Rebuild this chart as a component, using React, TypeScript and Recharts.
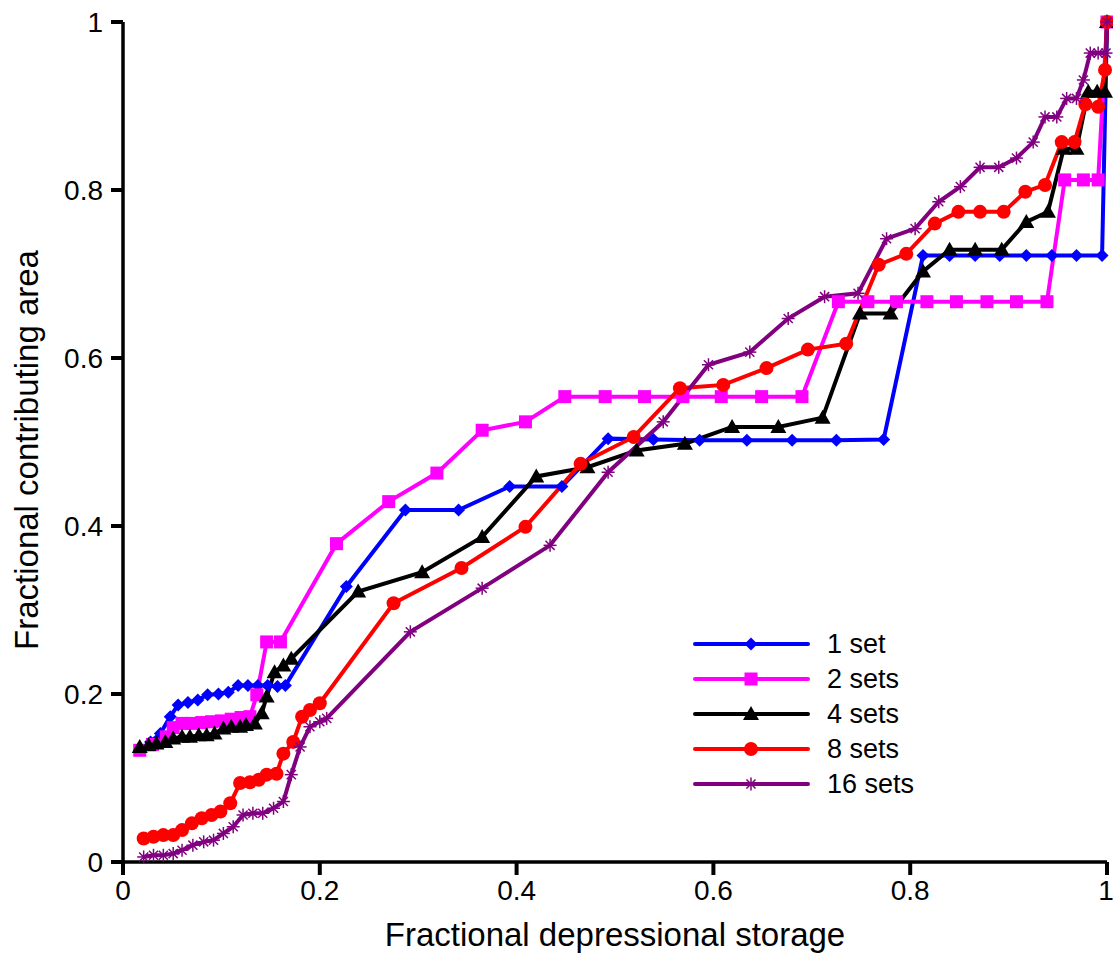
import React from 'react';
import { LineChart, Line, XAxis, YAxis } from 'recharts';

// values
const blueX = [0.018, 0.028, 0.038, 0.048, 0.056, 0.066, 0.076, 0.086, 0.097, 0.107, 0.117, 0.127, 0.137, 0.147, 0.157, 0.165, 0.227, 0.287, 0.341, 0.393, 0.446, 0.493, 0.539, 0.586, 0.634, 0.68, 0.725, 0.773, 0.813, 0.84, 0.866, 0.891, 0.918, 0.944, 0.969, 0.995, 1.0];
const blueY = [0.133, 0.143, 0.153, 0.173, 0.187, 0.19, 0.193, 0.199, 0.2, 0.202, 0.21, 0.21, 0.21, 0.21, 0.209, 0.21, 0.328, 0.419, 0.419, 0.447, 0.447, 0.504, 0.503, 0.502, 0.502, 0.502, 0.502, 0.503, 0.722, 0.722, 0.722, 0.722, 0.722, 0.722, 0.722, 0.722, 1.0];

const pinkX = [0.017, 0.03, 0.044, 0.051, 0.06, 0.07, 0.08, 0.09, 0.1, 0.11, 0.12, 0.129, 0.136, 0.146, 0.16, 0.217, 0.27, 0.319, 0.365, 0.409, 0.449, 0.49, 0.53, 0.569, 0.608, 0.649, 0.69, 0.727, 0.757, 0.786, 0.817, 0.847, 0.878, 0.908, 0.939, 0.957, 0.976, 0.991, 1.0];
const pinkY = [0.133, 0.14, 0.149, 0.16, 0.165, 0.165, 0.166, 0.167, 0.168, 0.17, 0.172, 0.173, 0.199, 0.262, 0.262, 0.379, 0.429, 0.463, 0.514, 0.524, 0.554, 0.554, 0.554, 0.554, 0.554, 0.554, 0.554, 0.667, 0.667, 0.667, 0.667, 0.667, 0.667, 0.667, 0.667, 0.812, 0.812, 0.812, 1.0];

const blackX = [0.017, 0.026, 0.034, 0.043, 0.051, 0.06, 0.068, 0.077, 0.085, 0.093, 0.102, 0.11, 0.119, 0.125, 0.134, 0.141, 0.146, 0.154, 0.163, 0.171, 0.239, 0.304, 0.365, 0.42, 0.472, 0.522, 0.571, 0.619, 0.666, 0.711, 0.749, 0.78, 0.813, 0.84, 0.866, 0.893, 0.918, 0.94, 0.956, 0.969, 0.981, 0.99, 0.998, 1.0];
const blackY = [0.137, 0.139, 0.141, 0.143, 0.147, 0.149, 0.149, 0.151, 0.151, 0.153, 0.159, 0.161, 0.161, 0.163, 0.165, 0.177, 0.197, 0.226, 0.234, 0.242, 0.322, 0.345, 0.387, 0.459, 0.47, 0.49, 0.498, 0.518, 0.518, 0.529, 0.653, 0.653, 0.703, 0.729, 0.729, 0.729, 0.762, 0.774, 0.849, 0.849, 0.917, 0.917, 0.917, 1.0];

const redX = [0.021, 0.031, 0.041, 0.051, 0.06, 0.07, 0.08, 0.09, 0.099, 0.109, 0.119, 0.129, 0.138, 0.146, 0.156, 0.163, 0.173, 0.182, 0.19, 0.2, 0.275, 0.344, 0.409, 0.465, 0.519, 0.566, 0.61, 0.654, 0.696, 0.735, 0.768, 0.796, 0.825, 0.849, 0.871, 0.895, 0.917, 0.937, 0.954, 0.967, 0.978, 0.991, 0.998, 1.0];
const redY = [0.028, 0.03, 0.032, 0.032, 0.038, 0.046, 0.052, 0.056, 0.06, 0.07, 0.094, 0.095, 0.098, 0.104, 0.105, 0.129, 0.143, 0.173, 0.181, 0.189, 0.308, 0.35, 0.399, 0.474, 0.506, 0.564, 0.568, 0.588, 0.61, 0.617, 0.711, 0.724, 0.76, 0.774, 0.774, 0.774, 0.798, 0.806, 0.857, 0.857, 0.902, 0.899, 0.943, 1.0];

const purpleX = [0.021, 0.031, 0.041, 0.051, 0.06, 0.071, 0.082, 0.092, 0.102, 0.112, 0.122, 0.132, 0.142, 0.153, 0.163, 0.171, 0.18, 0.19, 0.2, 0.207, 0.292, 0.365, 0.434, 0.493, 0.549, 0.595, 0.637, 0.676, 0.713, 0.747, 0.776, 0.805, 0.829, 0.851, 0.871, 0.89, 0.908, 0.925, 0.937, 0.949, 0.959, 0.969, 0.976, 0.983, 0.991, 0.999, 1.0];
const purpleY = [0.006, 0.008, 0.008, 0.01, 0.014, 0.02, 0.024, 0.026, 0.034, 0.042, 0.056, 0.058, 0.058, 0.064, 0.072, 0.104, 0.137, 0.161, 0.167, 0.171, 0.274, 0.326, 0.377, 0.464, 0.524, 0.592, 0.607, 0.647, 0.673, 0.677, 0.742, 0.754, 0.786, 0.804, 0.827, 0.827, 0.838, 0.857, 0.887, 0.887, 0.909, 0.909, 0.931, 0.963, 0.963, 0.963, 1.0];

const ticks = [0, 0.2, 0.4, 0.6, 0.8, 1];
const seriesNames = ['1 set', '2 sets', '4 sets', '8 sets', '16 sets'];
const colors = ['#0000ff', '#ff00ff', '#000000', '#ff0000', '#800080'];

const FONT = '"Liberation Sans", Arial, sans-serif';

const toPoints = (xs: number[], ys: number[]) => xs.map((x, i) => ({ x, y: ys[i] }));

const series = [
  toPoints(blueX, blueY),
  toPoints(pinkX, pinkY),
  toPoints(blackX, blackY),
  toPoints(redX, redY),
  toPoints(purpleX, purpleY),
];

// marker shapes
const Marker = ({ kind, cx, cy, color }: { kind: number; cx: number; cy: number; color: string }) => {
  if (kind === 0) {
    const s = 6.5;
    return <path d={`M${cx},${cy - s} L${cx + s},${cy} L${cx},${cy + s} L${cx - s},${cy} Z`} fill={color} />;
  }
  if (kind === 1) {
    return <rect x={cx - 6.5} y={cy - 6.5} width={13} height={13} fill={color} />;
  }
  if (kind === 2) {
    const s = 8;
    return <path d={`M${cx},${cy - s} L${cx + s},${cy + s * 0.75} L${cx - s},${cy + s * 0.75} Z`} fill={color} />;
  }
  if (kind === 3) {
    return <circle cx={cx} cy={cy} r={7} fill={color} />;
  }
  const r = 6.5;
  return (
    <g stroke={color} strokeWidth={1.5}>
      <line x1={cx - r} y1={cy} x2={cx + r} y2={cy} />
      <line x1={cx} y1={cy - r} x2={cx} y2={cy + r} />
      <line x1={cx - r * 0.7} y1={cy - r * 0.7} x2={cx + r * 0.7} y2={cy + r * 0.7} />
      <line x1={cx - r * 0.7} y1={cy + r * 0.7} x2={cx + r * 0.7} y2={cy - r * 0.7} />
    </g>
  );
};

const LegendBox = () => (
  <svg width={260} height={180}>
    {seriesNames.map((name, i) => {
      const y = 16 + i * 35;
      return (
        <g key={name}>
          <line x1={2} y1={y} x2={115} y2={y} stroke={colors[i]} strokeWidth={4} strokeLinecap="round" />
          <Marker kind={i} cx={58} cy={y} color={colors[i]} />
          <text x={134} y={y + 9} fontSize={27} fontFamily={FONT} fill="#000">
            {name}
          </text>
        </g>
      );
    })}
  </svg>
);

const YTitle = () => (
  <text
    x={26}
    y={450}
    transform="rotate(-90, 26, 450)"
    textAnchor="middle"
    dominantBaseline="central"
    fontSize={33}
    fontFamily={FONT}
    fill="#000"
  >
    Fractional contributing area
  </text>
);

export default function App() {
  return (
    <div style={{ position: 'absolute', left: 0, top: 0, width: 1113, height: 955, background: '#fff' }}>
      <LineChart width={1113} height={955} margin={{ top: 22, right: 6, left: 0, bottom: 0 }}>
        <XAxis
          type="number"
          dataKey="x"
          domain={[0, 1]}
          ticks={ticks}
          tickFormatter={(v: number) => String(v)}
          axisLine={{ stroke: '#000', strokeWidth: 3.5 }}
          tickLine={{ stroke: '#000', strokeWidth: 4 }}
          tickSize={13}
          tickMargin={5}
          tick={{ fontSize: 28, fill: '#000', fontFamily: FONT }}
          height={93}
          label={{
            value: 'Fractional depressional storage',
            position: 'insideBottom',
            offset: 9,
            fontSize: 33,
            fill: '#000',
            fontFamily: FONT,
          }}
        />
        <YAxis
          type="number"
          dataKey="y"
          domain={[0, 1]}
          ticks={ticks}
          tickFormatter={(v: number) => String(v)}
          axisLine={{ stroke: '#000', strokeWidth: 3.5 }}
          tickLine={{ stroke: '#000', strokeWidth: 4 }}
          tickSize={12}
          tickMargin={8}
          tick={{ fontSize: 28, fill: '#000', fontFamily: FONT }}
          width={123}
          label={{ content: () => <YTitle /> }}
        />
        {series.map((pts, i) => (
          <Line
            key={seriesNames[i]}
            data={pts}
            dataKey="y"
            name={seriesNames[i]}
            type="linear"
            stroke={colors[i]}
            strokeWidth={4}
            isAnimationActive={false}
            dot={(p: any) => <Marker key={p.index} kind={i} cx={p.cx} cy={p.cy} color={colors[i]} />}
            activeDot={false}
          />
        ))}
      </LineChart>
      <div style={{ position: 'absolute', left: 693, top: 628 }}>
        <LegendBox />
      </div>
    </div>
  );
}
